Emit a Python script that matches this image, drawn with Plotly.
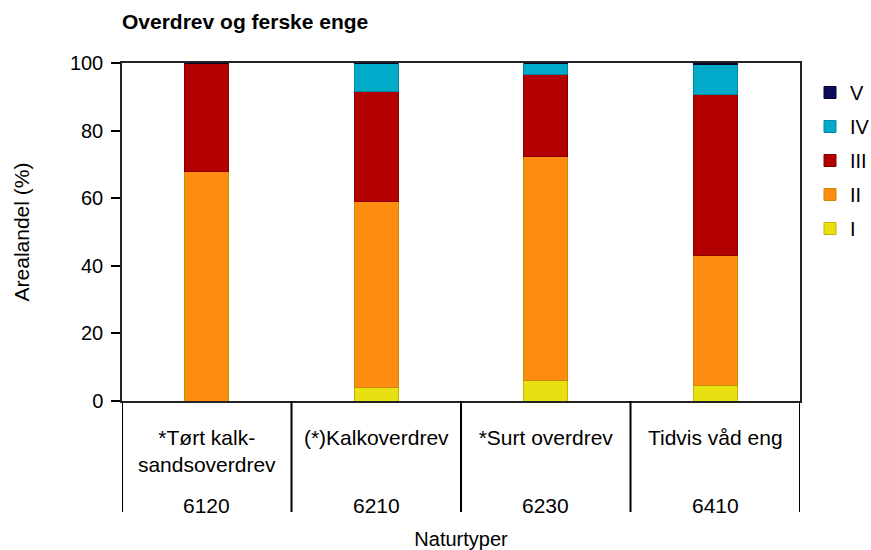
import plotly.graph_objects as go

codes = ["6120", "6210", "6230", "6410"]
names = ["*Tørt kalk-<br>sandsoverdrev", "(*)Kalkoverdrev", "*Surt overdrev", "Tidvis våd eng"]

series_names = ["I", "II", "III", "IV", "V"]
vals_I = [0.0, 3.9, 6.1, 4.7]
vals_II = [68.0, 55.1, 66.1, 38.3]
vals_III = [32.0, 32.7, 24.5, 47.8]
vals_IV = [0.0, 8.3, 3.3, 8.8]
vals_V = [0.0, 0.0, 0.0, 0.4]

colors = ["#e8e010", "#fd8c10", "#b30000", "#00aac8", "#0c0c5c"]
edge_colors = ["#c8b400", "#c88a00", "#8a0000", "#008aa0", "#05052e"]
all_vals = [vals_I, vals_II, vals_III, vals_IV, vals_V]

fig = go.Figure()
for i, (nm, v, c, ec) in enumerate(zip(series_names, all_vals, colors, edge_colors)):
    fig.add_trace(go.Bar(
        x=codes, y=v, name=nm, legendgroup=nm, legendrank=5 - i,
        marker=dict(color=c, line=dict(color=ec, width=1)),
    ))

font = "Liberation Sans, Arial, sans-serif"
fs = 20
plot_h = 550 - 63 - 149

# code row (second level of category labels), placed at each category index
for k, code in enumerate(codes):
    fig.add_annotation(x=k, xref="x", y=-(505 - 401) / plot_h, yref="paper",
                       text=code, showarrow=False, yanchor="middle",
                       font=dict(size=21, family=font, color="black"))

# group dividers between categories
for k in range(len(codes) + 1):
    fig.add_shape(type="line", xref="x", yref="paper",
                  x0=k - 0.5, x1=k - 0.5, y0=0, y1=-(512 - 401) / plot_h,
                  line=dict(color="black", width=2))

fig.update_layout(
    barmode="stack",
    bargap=0.74,
    width=871, height=550,
    margin=dict(l=122, r=71, t=63, b=149, autoexpand=False),
    paper_bgcolor="white", plot_bgcolor="white",
    font=dict(family=font, size=fs, color="black"),
    title=dict(text="<b>Overdrev og ferske enge</b>", x=122/871, xanchor="left",
               y=1 - 22/550, yanchor="middle", font=dict(size=21, family=font)),
    legend=dict(x=1.0 + 10/678, xanchor="left", y=1 - 10/338, yanchor="top",
                traceorder="grouped", tracegroupgap=5,
                font=dict(size=fs)),
    xaxis=dict(
        type="category", range=[-0.5, len(codes) - 0.5],
        tickvals=codes, ticktext=names,
        showline=True, linecolor="#222", linewidth=1.5, mirror=True,
        ticks="outside", ticklen=17, tickcolor="rgba(0,0,0,0)",
        tickfont=dict(size=21), automargin=False,
        title=dict(text="Naturtyper", font=dict(size=fs), standoff=57),
    ),
    yaxis=dict(
        range=[0, 100], dtick=20, showgrid=False, zeroline=False,
        showline=True, linecolor="#222", linewidth=1.5, mirror=True,
        ticks="outside", ticklen=9, tickcolor="black", tickwidth=1.5,
        ticklabelstandoff=4,
        tickfont=dict(size=fs), automargin=False,
        title=dict(text="Arealandel (%)", font=dict(size=21), standoff=35),
    ),
)

fig.write_html("out.html", config={"displayModeBar": False})
with open("out.html", "r", encoding="utf-8") as f:
    html = f.read()
html = html.replace("<head>", "<head><style>html,body{margin:0;padding:0;}</style>", 1)
with open("out.html", "w", encoding="utf-8") as f:
    f.write(html)
